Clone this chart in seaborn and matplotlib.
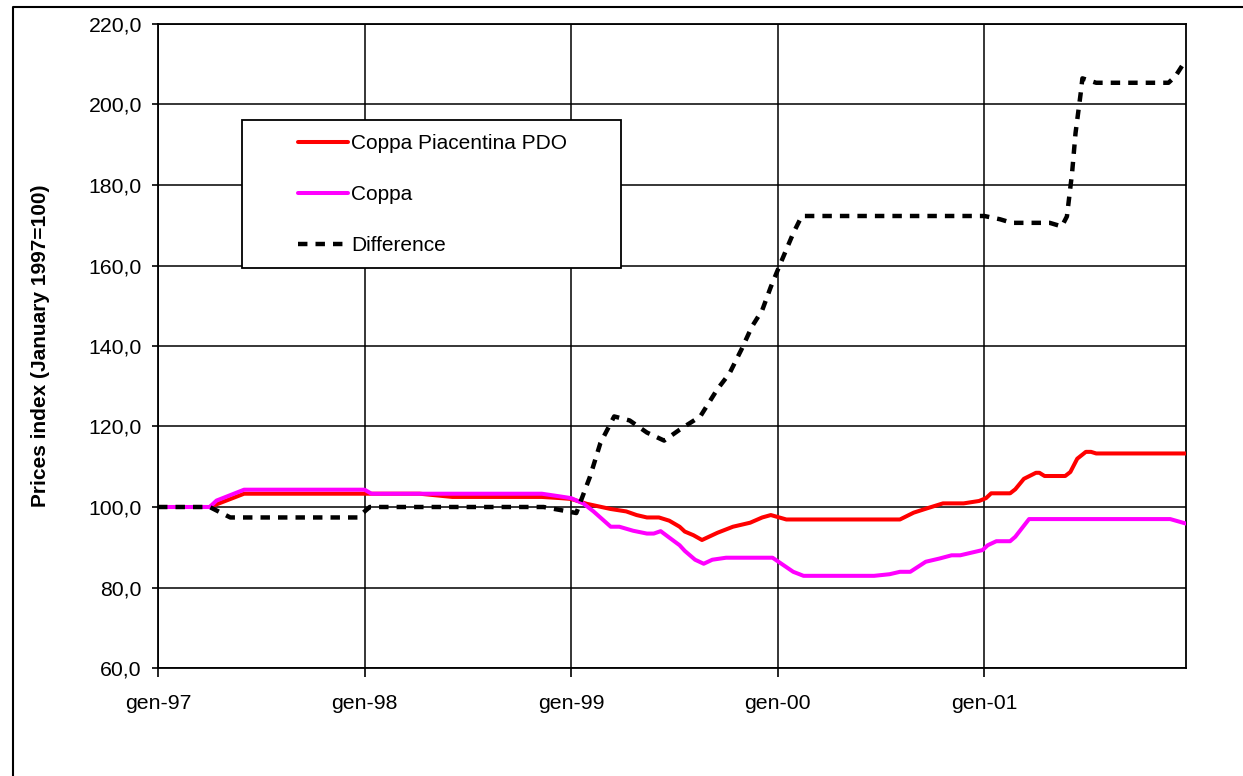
import matplotlib
matplotlib.use("Agg")
import matplotlib.pyplot as plt
from matplotlib.patches import Rectangle
from matplotlib.lines import Line2D
from matplotlib.ticker import FuncFormatter, FixedLocator
import seaborn as sns

# ---------------- data (months since January 1997, index value) ----------------
pdo_months = [0, 3.0, 5.0, 12.0, 15.2, 17.1, 22.3, 23.4, 24.0, 24.9, 26.3, 27.2, 27.8,
              28.4, 29.1, 29.7, 30.3, 30.6, 31.1, 31.6, 32.5, 33.4, 34.4, 35.1, 35.6,
              36.5, 43.1, 43.9, 44.7, 45.6, 46.8, 47.7, 48.1, 48.4, 49.5, 49.8, 50.3,
              51.0, 51.2, 51.5, 52.7, 53.0, 53.4, 53.9, 54.2, 54.5, 59.7]
pdo_values = [100, 100, 103.3, 103.3, 103.3, 102.5, 102.5, 102.2, 102.0, 100.8, 99.5, 98.9, 98.0,
              97.4, 97.4, 96.6, 95.1, 93.9, 93.0, 91.8, 93.6, 95.1, 96.1, 97.4, 98.0,
              96.9, 96.9, 98.6, 99.7, 100.9, 100.9, 101.5, 102.2, 103.4, 103.4, 104.4, 107.0,
              108.5, 108.5, 107.7, 107.7, 108.7, 112.0, 113.7, 113.7, 113.3, 113.3]

coppa_months = [0, 3.0, 3.4, 5.0, 12.0, 12.4, 22.3, 23.4, 24.0, 24.7, 25.3, 26.3, 26.8,
                27.6, 28.4, 28.8, 29.2, 29.7, 30.3, 30.6, 31.2, 31.7, 32.2, 33.0, 35.7,
                36.9, 37.5, 41.6, 42.5, 43.1, 43.7, 44.6, 45.4, 46.1, 46.6, 47.9, 48.2,
                48.7, 49.5, 49.8, 50.6, 58.8, 59.7]
coppa_values = [100, 100, 101.6, 104.3, 104.3, 103.3, 103.3, 102.6, 102.2, 100.9, 98.9, 95.1, 95.1,
                94.1, 93.4, 93.4, 94.0, 92.4, 90.5, 89.1, 86.9, 85.9, 86.9, 87.4, 87.4,
                83.9, 82.9, 82.9, 83.3, 83.9, 83.9, 86.4, 87.2, 88.0, 88.0, 89.3, 90.5,
                91.5, 91.5, 92.6, 97.0, 97.0, 95.9]

diff_months = [0, 3.0, 4.2, 11.6, 12.3, 22.4, 23.3, 24.3, 25.1, 25.7, 26.5, 27.4, 28.4,
               29.4, 30.3, 31.5, 32.5, 33.2, 33.9, 34.5, 35.1, 35.6, 36.1, 36.9, 37.4,
               48.0, 48.9, 49.6, 51.8, 52.5, 52.8, 53.1, 53.3, 53.6, 53.7, 54.5, 58.7,
               59.1, 59.7]
diff_values = [100, 100, 97.4, 97.4, 100.0, 100.0, 99.3, 98.5, 107.6, 115.9, 122.5, 121.5, 118.5,
               116.5, 119.2, 122.5, 129.3, 133.2, 139.2, 144.8, 148.9, 154.7, 159.9, 168.0, 172.3,
               172.3, 171.5, 170.6, 170.6, 169.7, 172.2, 183.0, 192.9, 202.8, 206.5, 205.4, 205.4,
               207.0, 211.0]

series_names = ["Coppa Piacentina PDO", "Coppa", "Difference"]
x_tick_months = [0, 12, 24, 36, 48]
x_tick_labels = ["gen-97", "gen-98", "gen-99", "gen-00", "gen-01"]
y_ticks = [60, 80, 100, 120, 140, 160, 180, 200, 220]
y_label = "Prices index (January 1997=100)"

# ---------------- style ----------------
sns.set_theme(style="white")
plt.rcParams["font.family"] = ["Liberation Sans", "DejaVu Sans"]
plt.rcParams["lines.scale_dashes"] = False

W, H = 1243, 776
fig = plt.figure(figsize=(W / 100, H / 100), dpi=100)
fig.patch.set_facecolor("white")

left, right, top, bottom = 158, 1185.7, 24, 668
ax = fig.add_axes([left / W, 1 - bottom / H, (right - left) / W, (bottom - top) / H])
ax.set_facecolor("white")

lw = 2.9
sns.lineplot(x=pdo_months, y=pdo_values, ax=ax, color="#FF0000", linewidth=lw,
             estimator=None, sort=False, label=series_names[0], zorder=3)
sns.lineplot(x=coppa_months, y=coppa_values, ax=ax, color="#FF00FF", linewidth=lw,
             estimator=None, sort=False, label=series_names[1], zorder=4)
sns.lineplot(x=diff_months, y=diff_values, ax=ax, color="black", linewidth=3.2,
             estimator=None, sort=False, label=series_names[2], zorder=5)
ax.lines[2].set_dashes((6.8, 5.8))
ax.get_legend().remove()

ax.set_xlim(0, 59.7)
ax.set_ylim(60, 220)
ax.xaxis.set_major_locator(FixedLocator(x_tick_months))
ax.set_xticklabels(x_tick_labels)
ax.yaxis.set_major_locator(FixedLocator(y_ticks))
ax.yaxis.set_major_formatter(FuncFormatter(lambda v, p: f"{v:.1f}".replace(".", ",")))

ax.grid(True, color="black", linewidth=1.1)
ax.set_axisbelow(True)
for s in ax.spines.values():
    s.set_color("black")
    s.set_linewidth(1.3)

ax.tick_params(axis="y", direction="out", length=4.2, width=1.2, color="black",
               pad=7.5, labelsize=15.3, labelcolor="black", left=True)
ax.tick_params(axis="x", direction="out", length=6.5, width=1.2, color="black",
               pad=12, labelsize=15.3, labelcolor="black", bottom=True)

ax.set_xlabel("")
ax.set_ylabel(y_label, fontsize=15, fontweight="bold", color="black")
ax.yaxis.set_label_coords((50 - left) / (right - left), 0.5)

# legend box and legend
lx0, ly0, lx1, ly1 = 241.7, 120, 620.7, 268.3
box = Rectangle((lx0 / W, 1 - ly1 / H), (lx1 - lx0) / W, (ly1 - ly0) / H,
                transform=fig.transFigure, facecolor="white", edgecolor="black",
                linewidth=1.3, zorder=4)
fig.patches.append(box)

handles = ax.lines[:3]
leg = fig.legend(handles, series_names, loc="center left",
                 bbox_to_anchor=(297.7 / W, 1 - 194.5 / H),
                 frameon=False, fontsize=15, borderpad=0, borderaxespad=0,
                 handlelength=2.43, handletextpad=0.12, labelspacing=1.54)
leg.set_zorder(6)
for t in leg.get_texts():
    t.set_color("black")

# outer chart-area border (top and left visible)
fig.add_artist(Line2D([13 / W, 13 / W, 1.0], [0.0, 1 - 7 / H, 1 - 7 / H],
                      transform=fig.transFigure, color="black", linewidth=1.5))

fig.savefig("out.png", dpi=100)
